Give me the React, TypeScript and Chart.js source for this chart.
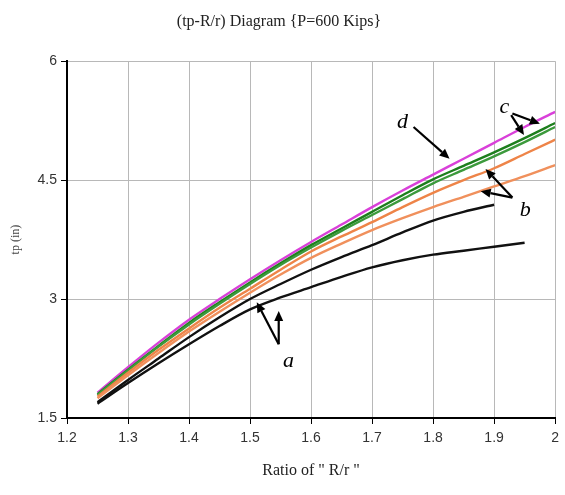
import React, { useEffect, useRef } from "react";
import { Chart, registerables } from "chart.js";

Chart.register(...registerables);

// ---- data ----
const ratioValues = [1.25, 1.3, 1.35, 1.4, 1.45, 1.5, 1.55, 1.6, 1.65, 1.7, 1.75, 1.8, 1.85, 1.9, 1.95, 2.0];

const curveD = [1.82, 2.14, 2.45, 2.74, 3.0, 3.25, 3.49, 3.72, 3.94, 4.16, 4.37, 4.57, 4.77, 4.97, 5.17, 5.36];
const curveC1 = [1.8, 2.11, 2.41, 2.7, 2.96, 3.21, 3.45, 3.68, 3.89, 4.1, 4.31, 4.51, 4.68, 4.85, 5.03, 5.22];
const curveC2 = [1.79, 2.1, 2.4, 2.68, 2.94, 3.19, 3.43, 3.65, 3.86, 4.06, 4.26, 4.46, 4.63, 4.8, 4.98, 5.17];
const curveB1 = [1.77, 2.07, 2.36, 2.63, 2.89, 3.13, 3.37, 3.6, 3.79, 3.97, 4.16, 4.34, 4.5, 4.65, 4.83, 5.01];
const curveB2 = [1.75, 2.04, 2.32, 2.59, 2.84, 3.08, 3.31, 3.52, 3.7, 3.87, 4.02, 4.16, 4.29, 4.42, 4.55, 4.69];
const curveA1 = [1.7, 1.98, 2.25, 2.52, 2.77, 3.0, 3.19, 3.37, 3.53, 3.68, 3.84, 3.99, 4.1, 4.19, null, null];
const curveA2 = [1.68, 1.94, 2.19, 2.43, 2.66, 2.87, 3.02, 3.15, 3.28, 3.4, 3.49, 3.56, 3.61, 3.66, 3.71, null];

const xTickValues = [1.2, 1.3, 1.4, 1.5, 1.6, 1.7, 1.8, 1.9, 2];
const yTickValues = [1.5, 3, 4.5, 6];

// annotation labels (data coordinates)
const noteTexts = ["a", "b", "c", "d"];
const noteX = [1.563, 1.951, 1.917, 1.75];
const noteY = [2.22, 4.12, 5.42, 5.23];

// annotation arrows (data coordinates): from -> to (tip)
const arrowFromX = [1.547, 1.547, 1.93, 1.93, 1.928, 1.93, 1.768];
const arrowFromY = [2.43, 2.43, 4.28, 4.28, 5.32, 5.34, 5.17];
const arrowToX = [1.511, 1.547, 1.886, 1.878, 1.949, 1.975, 1.827];
const arrowToY = [2.96, 2.85, 4.64, 4.36, 5.07, 5.21, 4.77];

const seriesList = [
  { name: "a1", values: curveA1, color: "#111111" },
  { name: "a2", values: curveA2, color: "#111111" },
  { name: "b2", values: curveB2, color: "#f0905c" },
  { name: "b1", values: curveB1, color: "#ee8448" },
  { name: "c2", values: curveC2, color: "#3c9a3c" },
  { name: "c1", values: curveC1, color: "#1d7f1d" },
  { name: "d", values: curveD, color: "#d940d9" },
];

const annotationPlugin = {
  id: "notes",
  afterDatasetsDraw(chart: any) {
    const { ctx, scales } = chart;
    const xs = scales.x;
    const ys = scales.y;
    ctx.save();
    ctx.strokeStyle = "#000";
    ctx.fillStyle = "#000";
    ctx.lineWidth = 2.2;
    for (let i = 0; i < arrowFromX.length; i++) {
      const x0 = xs.getPixelForValue(arrowFromX[i]);
      const y0 = ys.getPixelForValue(arrowFromY[i]);
      const x1 = xs.getPixelForValue(arrowToX[i]);
      const y1 = ys.getPixelForValue(arrowToY[i]);
      const ang = Math.atan2(y1 - y0, x1 - x0);
      const headLen = 10;
      const headW = 4.5;
      const bx = x1 - headLen * Math.cos(ang);
      const by = y1 - headLen * Math.sin(ang);
      ctx.beginPath();
      ctx.moveTo(x0, y0);
      ctx.lineTo(bx, by);
      ctx.stroke();
      ctx.beginPath();
      ctx.moveTo(x1, y1);
      ctx.lineTo(bx + headW * Math.sin(ang), by - headW * Math.cos(ang));
      ctx.lineTo(bx - headW * Math.sin(ang), by + headW * Math.cos(ang));
      ctx.closePath();
      ctx.fill();
    }
    ctx.font = "italic 22px 'Liberation Serif', 'DejaVu Serif', serif";
    ctx.textAlign = "center";
    ctx.textBaseline = "middle";
    for (let i = 0; i < noteTexts.length; i++) {
      ctx.fillText(noteTexts[i], xs.getPixelForValue(noteX[i]), ys.getPixelForValue(noteY[i]));
    }
    ctx.restore();
  },
};

const tickFont = { family: "'Liberation Sans Narrow', 'Liberation Sans', Arial, sans-serif", size: 14 };

export default function App() {
  const canvasRef = useRef<HTMLCanvasElement | null>(null);

  useEffect(() => {
    if (!canvasRef.current) return;
    const datasets = seriesList.map((s) => ({
      label: s.name,
      data: ratioValues
        .map((x, i) => ({ x, y: s.values[i] }))
        .filter((p) => p.y !== null && p.y !== undefined),
      borderColor: s.color,
      backgroundColor: s.color,
      borderWidth: 2.4,
      pointRadius: 0,
      cubicInterpolationMode: "monotone" as const,
      fill: false,
    }));

    const chart = new Chart(canvasRef.current, {
      type: "line",
      data: { datasets },
      options: {
        responsive: false,
        animation: false,
        layout: { padding: { left: 0, right: 7, top: 0, bottom: 0 } },
        plugins: {
          legend: { display: false },
          tooltip: { enabled: false },
          title: {
            display: true,
            text: "(tp-R/r) Diagram {P=600 Kips}",
            color: "#222",
            font: { family: "'Liberation Serif', serif", size: 16, weight: "normal" },
            padding: { top: 12, bottom: 30 },
          },
        },
        scales: {
          x: {
            type: "linear",
            min: 1.2,
            max: 2,
            afterBuildTicks: (scale: any) => {
              scale.ticks = xTickValues.map((v) => ({ value: v }));
            },
            afterFit: (scale: any) => {
              scale.height = 77;
            },
            ticks: {
              color: "#333",
              font: tickFont,
              padding: 6,
              maxRotation: 0,
              callback: (v: any) => String(Number(Number(v).toFixed(1))),
            },
            grid: { color: "#b8b8b8", lineWidth: 1, tickColor: "#000", tickLength: 6 },
            border: { color: "#000", width: 2 },
            title: {
              display: true,
              text: 'Ratio of " R/r "',
              color: "#222",
              font: { family: "'Liberation Serif', serif", size: 16 },
              padding: { top: 4, bottom: 15 },
            },
          },
          y: {
            type: "linear",
            min: 1.5,
            max: 6,
            afterBuildTicks: (scale: any) => {
              scale.ticks = yTickValues.map((v) => ({ value: v }));
            },
            afterFit: (scale: any) => {
              scale.width = 67;
            },
            ticks: {
              color: "#333",
              font: tickFont,
              padding: 4,
              callback: (v: any) => String(v),
            },
            grid: { color: "#b8b8b8", lineWidth: 1, tickColor: "#000", tickLength: 6 },
            border: { color: "#000", width: 2 },
            title: {
              display: true,
              text: "tp (in)",
              color: "#444",
              font: { family: "'Liberation Serif', serif", size: 12 },
              padding: { top: 9, bottom: 0 },
            },
          },
        },
      },
      plugins: [annotationPlugin],
    });
    return () => chart.destroy();
  }, []);

  return (
    <div style={{ position: "fixed", left: 0, top: 0, width: 565, height: 495, background: "#fff" }}>
      <canvas ref={canvasRef} width={565} height={495} style={{ width: 565, height: 495 }} />
    </div>
  );
}
